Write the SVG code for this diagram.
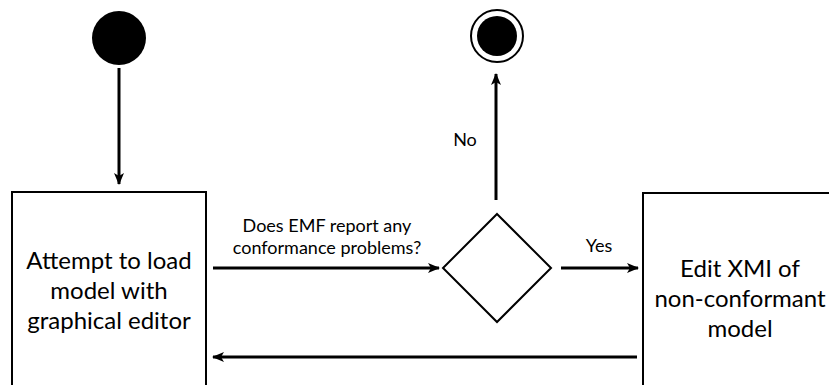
<svg xmlns="http://www.w3.org/2000/svg" width="829" height="385" viewBox="0 0 829 385">
<style>
.box{fill:#fff;stroke:#000;stroke-width:2}
.edge{fill:none;stroke:#000;stroke-width:3}
.t{font-family:Lato,"Open Sans",sans-serif;fill:#000;text-anchor:middle}
.big{font-size:24px}
.sm{font-size:18px}
</style>
<defs>
<marker id="ah" viewBox="0 0 12 10" refX="11" refY="5" markerWidth="12" markerHeight="10" markerUnits="userSpaceOnUse" orient="auto">
<path d="M0,0 L12,5 L0,10 L3,5 Z" fill="#000"/>
</marker>
</defs>
<rect width="829" height="385" fill="#fff"/>
<g id="start">
<circle cx="119" cy="38" r="27" fill="#000"/>
</g>
<g id="end">
<circle cx="497" cy="36" r="26" fill="#fff" stroke="#000" stroke-width="2"/>
<circle cx="497" cy="36" r="20" fill="#000"/>
</g>
<g id="load">
<rect class="box" x="12" y="192" width="194" height="210"/>
<text class="t big" x="109" y="269">Attempt to load</text>
<text class="t big" x="109" y="299">model with</text>
<text class="t big" x="109" y="329">graphical editor</text>
</g>
<g id="decision">
<polygon class="box" points="497,214 551,268 497,322 443,268"/>
</g>
<g id="edit">
<rect class="box" x="643" y="193" width="194" height="210"/>
<text class="t big" x="740" y="277">Edit XMI of</text>
<text class="t big" x="740" y="307">non-conformant</text>
<text class="t big" x="740" y="337">model</text>
</g>
<g id="connectors">
<path class="edge" d="M119,68 L119,184" marker-end="url(#ah)"/>
<path class="edge" d="M213,268 L439,268" marker-end="url(#ah)"/>
<path class="edge" d="M496,200 L496,74" marker-end="url(#ah)"/>
<path class="edge" d="M561,268 L638,268" marker-end="url(#ah)"/>
<path class="edge" d="M637,357 L213,357" marker-end="url(#ah)"/>
<text class="t sm" x="327" y="232">Does EMF report any</text>
<text class="t sm" x="327" y="254">conformance problems?</text>
<text class="t sm" x="465" y="146">No</text>
<text class="t sm" x="599" y="252">Yes</text>
</g>
</svg>
